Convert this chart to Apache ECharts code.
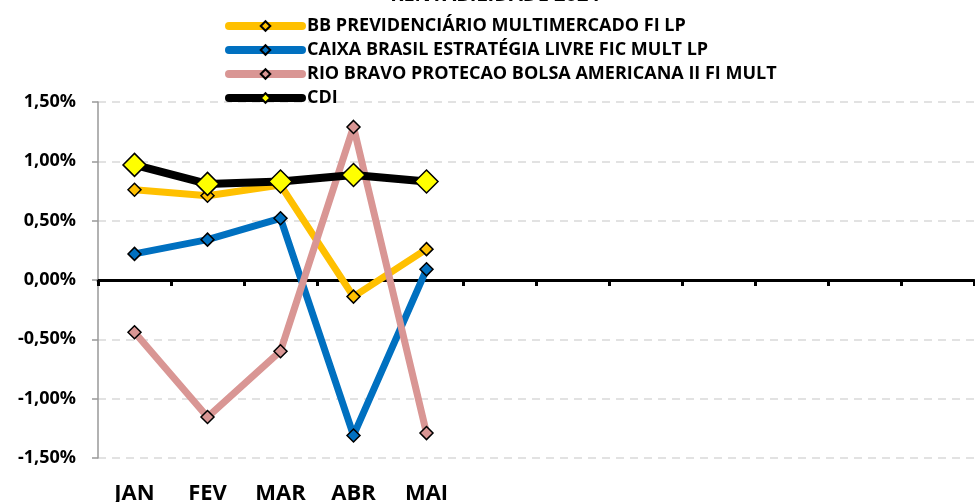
<!DOCTYPE html>
<html><head><meta charset="utf-8">
<script src="https://cdn.jsdelivr.net/npm/echarts@6/dist/echarts.min.js"></script>
<style>html,body{margin:0;padding:0;background:#fff}#c{width:975px;height:502px}</style>
</head><body><div id="c"></div>
<script>
const categories = ['JAN','FEV','MAR','ABR','MAI','','','','','','',''];
const seriesNames = ['BB PREVIDENCIÁRIO MULTIMERCADO FI LP','CAIXA BRASIL ESTRATÉGIA LIVRE FIC MULT LP','RIO BRAVO PROTECAO BOLSA AMERICANA II FI MULT','CDI'];
const bbValues = [0.76, 0.71, 0.80, -0.14, 0.26];
const caixaValues = [0.22, 0.34, 0.52, -1.31, 0.09];
const rioValues = [-0.44, -1.155, -0.60, 1.29, -1.29];
const cdiValues = [0.97, 0.81, 0.83, 0.885, 0.83];
const titleText = 'RENTABILIDADE 2024';

const FONT = 'Open Sans';
const chart = echarts.init(document.getElementById('c'));
function lineSeries(name, data, color, width, symSize, symColor){
  return {name, type:'line', data, xAxisIndex:0, yAxisIndex:0,
    lineStyle:{color, width, cap:'round', join:'round'},
    itemStyle:{color:symColor, borderColor:'#000', borderWidth:1.5},
    symbol:'diamond', symbolSize:symSize, showSymbol:true, animation:false};
}
chart.setOption({
  animation:false,
  title:{text:titleText, left:490, top:-20, textAlign:'center', textStyle:{fontFamily:FONT, fontWeight:'bold', fontSize:20, color:'#000'}},
  legend:{orient:'vertical', left:225, top:17, padding:0, itemWidth:73, itemHeight:12, itemGap:6,
    lineStyle:{width:8, cap:'round'},
    textStyle:{fontFamily:FONT, fontWeight:'bold', fontSize:18, lineHeight:12, color:'#000'},
    data:seriesNames},
  grid:{left:98, right:1, top:102, bottom:44, containLabel:false, outerBoundsMode:'none'},
  xAxis:[{type:'category', data:categories, boundaryGap:true,
      axisLine:{onZero:true, lineStyle:{color:'#000', width:3}},
      axisTick:{show:true, inside:false, length:6, lineStyle:{color:'#000', width:3}},
      axisLabel:{show:false}, splitLine:{show:false}},
    {type:'category', data:categories, position:'bottom', boundaryGap:true,
      axisLine:{show:false, onZero:false}, axisTick:{show:false},
      axisLabel:{show:true, margin:25, fontFamily:FONT, fontWeight:'bold', fontSize:22, color:'#000'}}],
  yAxis:{type:'value', min:-1.5, max:1.5, interval:0.5,
    axisLine:{show:true, lineStyle:{color:'#999', width:1.5}},
    axisTick:{show:true, length:6, lineStyle:{color:'#999', width:1.5}},
    axisLabel:{margin:22, fontFamily:FONT, fontWeight:'bold', fontSize:18, color:'#000',
      formatter:v=>v.toFixed(2).replace('.',',')+'%'},
    splitLine:{show:true, lineStyle:{color:'#d9d9d9', type:[8,6], width:1.5}}},
  series:[
    lineSeries(seriesNames[0], bbValues, '#FFC000', 7, 13, '#FFC000'),
    lineSeries(seriesNames[1], caixaValues, '#0070C0', 7, 13, '#0070C0'),
    lineSeries(seriesNames[2], rioValues, '#D99694', 7, 13, '#D99694'),
    lineSeries(seriesNames[3], cdiValues, '#000000', 8, 23, '#FFFF00')
  ]
});
</script></body></html>
